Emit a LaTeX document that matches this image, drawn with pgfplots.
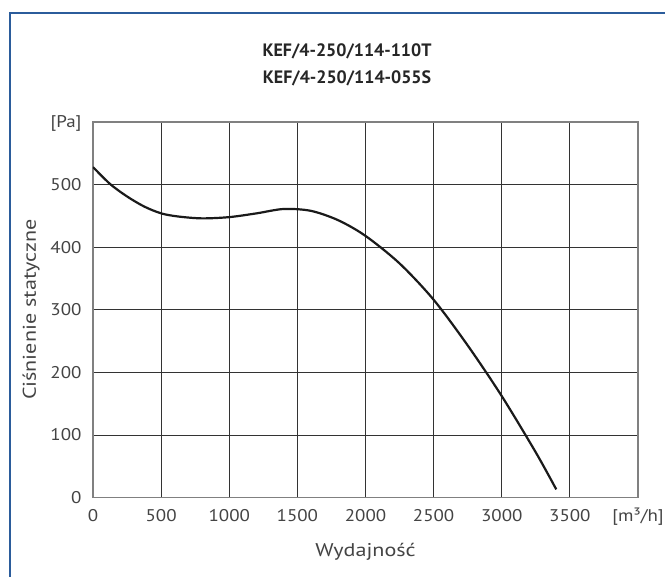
\documentclass[border=0pt]{standalone}
\usepackage{fontspec}
\setmainfont{PT Sans}
\newfontfamily\tickfont[FakeStretch=1.12]{PT Sans}
\newfontfamily\labfont[FakeStretch=1.2]{PT Sans}
\usepackage{pgfplots}
\pgfplotsset{compat=1.18}
\definecolor{framecol}{HTML}{2B5C9B}
\definecolor{txtcol}{HTML}{444444}
\definecolor{gridcol}{HTML}{333333}
\definecolor{axcol}{HTML}{808080}
\definecolor{curvecol}{HTML}{1A1A1A}

\begin{document}
\begin{tikzpicture}[x=1bp,y=1bp]
\clip (-93,-79.5) rectangle (572,497.5);
\fill[white] (-93,-79.5) rectangle (572,497.5);
\draw[framecol, line width=1.5bp] (-83,-120) rectangle (700,484.5);
\begin{axis}[
    at={(0,0)}, anchor=south west,
    scale only axis, width=545bp, height=375.5bp,
    xmin=0, xmax=4000, ymin=0, ymax=600,
    xtick={0,500,...,4000},
    xticklabels={0,500,1000,1500,2000,2500,3000,3500,{[m³/h]}},
    ytick={0,100,...,600},
    yticklabels={0,100,200,300,400,500,{[Pa]}},
    grid=major,
    major grid style={gridcol, line width=0.8bp},
    major tick length=0pt,
    axis line style={axcol, line width=1.2bp},
    tick label style={font=\tickfont\fontsize{17}{20}\selectfont, text=txtcol},
    xticklabel style={anchor=base, yshift=-24bp},
    yticklabel style={anchor=base east, yshift=-6bp, xshift=-8bp},
    xlabel={Wydajność},
    ylabel={Ciśnienie statyczne},
    label style={font=\labfont\fontsize{18.5}{22}\selectfont, text=txtcol},
    xlabel style={at={(axis description cs:0.5,-0.1571)}, anchor=base},
    ylabel style={at={(axis description cs:-0.1046,0.5)}, anchor=base, rotate=0},
]
\addplot[smooth, line width=2.2bp, color=curvecol] coordinates {
    (0,528) (125,501) (250,481) (375,465) (500,454) (625,449) (800,446)
    (1000,448) (1200,454) (1400,461) (1600,458) (1800,443) (2000,418)
    (2250,374) (2500,316) (2750,243) (3000,162) (3250,72) (3400,13)
};
\end{axis}
\node[font=\bfseries\fontsize{18}{21}\selectfont, text=black!85] at (254,445.8) {KEF/4-250/114-110T};
\node[font=\bfseries\fontsize{18}{21}\selectfont, text=black!85] at (254,419.5) {KEF/4-250/114-055S};
\end{tikzpicture}
\end{document}
